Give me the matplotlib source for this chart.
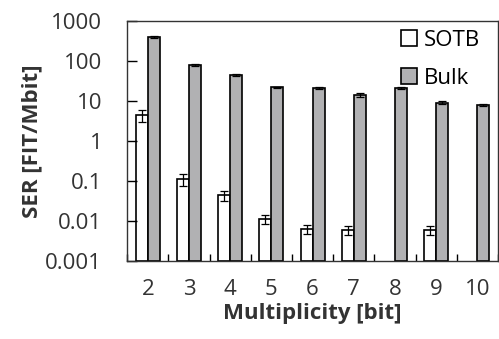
import numpy as np
import matplotlib
matplotlib.use('Agg')
import matplotlib.pyplot as plt
from matplotlib.ticker import FixedLocator, NullLocator, FixedFormatter

plt.rcParams['font.family'] = ['Open Sans', 'DejaVu Sans']

multiplicity = [2, 3, 4, 5, 6, 7, 8, 9, 10]
sotb = [4.5, 0.11, 0.043, 0.0105, 0.0053, 0.0051, np.nan, 0.0051, np.nan]
sotb_err = [1.5, 0.035, 0.013, 0.003, 0.0015, 0.0015, np.nan, 0.0015, np.nan]
bulk = [400, 80, 45, 22, 21, 14, 21, 9, 8]
bulk_err = [25, 4, 2, 1, 1, 1.5, 1.5, 0.8, 0.5]

C_BULK = '#b1b1b3'

fig = plt.figure(figsize=(4.99, 3.39), dpi=100)
ax = fig.add_axes([0.255, 0.230, 0.743, 0.708])

x = np.arange(len(multiplicity))
w = 0.29
ekw = {'lw': 0.9, 'capsize': 3, 'capthick': 0.9, 'ecolor': 'black'}
ax.bar(x - w/2, sotb, w, bottom=0.001, yerr=sotb_err, color='white',
       edgecolor='black', linewidth=1.2, error_kw=ekw, label='SOTB')
ax.bar(x + w/2, np.array(bulk) - 0.001, w, bottom=0.001, yerr=bulk_err,
       color=C_BULK, edgecolor='black', linewidth=1.2, error_kw=ekw,
       label='Bulk')

ax.set_yscale('log')
ax.set_ylim(0.001, 1000)
ax.set_xlim(-0.5, len(multiplicity) - 0.5)
yt = [0.001, 0.01, 0.1, 1, 10, 100, 1000]
ax.yaxis.set_major_locator(FixedLocator(yt))
ax.yaxis.set_major_formatter(FixedFormatter(['0.001', '0.01', '0.1', '1', '10', '100', '1000']))
ax.yaxis.set_minor_locator(NullLocator())
ax.tick_params(axis='y', direction='in', length=7, width=1.0, labelsize=16,
               pad=18, labelcolor='#333333')

ax.set_xticks(x)
ax.set_xticklabels([str(m) for m in multiplicity])
ax.set_xticks(np.arange(len(multiplicity) + 1) - 0.5, minor=True)
ax.tick_params(axis='x', which='major', length=0, labelsize=16, pad=13,
               labelcolor='#333333')
ax.tick_params(axis='x', which='minor', direction='in', length=5, width=1.0)

for s in ax.spines.values():
    s.set_linewidth(1.0)
    s.set_color('#333333')

ax.set_xlabel('Multiplicity [bit]', fontsize=16, fontweight='bold',
              labelpad=2, color='#333333')
ax.set_ylabel('SER [FIT/Mbit]', fontsize=16, fontweight='bold',
              labelpad=2, color='#333333')

ax.legend(loc='upper right', bbox_to_anchor=(0.975, 1.0), frameon=False,
          fontsize=16, handlelength=0.7, handleheight=0.7, handletextpad=0.3,
          labelspacing=0.75, borderaxespad=0.1, borderpad=0.3)

fig.savefig('out.png', dpi=100)
